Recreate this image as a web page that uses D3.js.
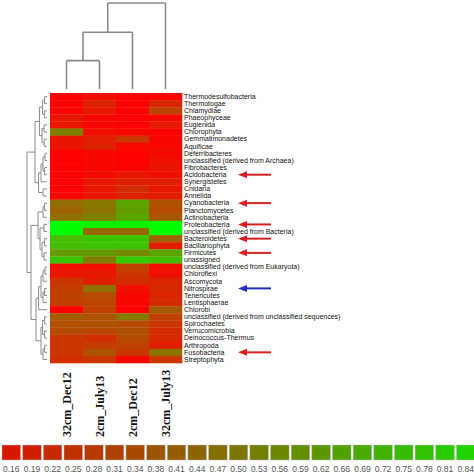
<!DOCTYPE html>
<html><head><meta charset="utf-8">
<script src="https://cdn.jsdelivr.net/npm/d3@7"></script>
<style>html,body{margin:0;padding:0;background:#fff;}svg{display:block;}</style>
</head><body>
<svg id="chart" width="474" height="474"></svg>
<script>
// ---------- DATA ----------
const samples = ["32cm_Dec12", "2cm_July13", "2cm_Dec12", "32cm_July13"];
const taxa = [
  "Thermodesulfobacteria","Thermotogae","Chlamydiae","Phaeophyceae","Euglenida","Chlorophyta",
  "Gemmatimonadetes","Aquificae","Deferribacteres","unclassified (derived from Archaea)",
  "Fibrobacteres","Acidobacteria","Synergistetes","Cnidaria","Annelida","Cyanobacteria",
  "Planctomycetes","Actinobacteria","Proteobacteria","unclassified (derived from Bacteria)",
  "Bacteroidetes","Bacillariophyta","Firmicutes","unassigned","unclassified (derived from Eukaryota)",
  "Chloroflexi","Ascomycota","Nitrospirae","Tenericutes","Lentisphaerae","Chlorobi",
  "unclassified (derived from unclassified sequences)","Spirochaetes","Verrucomicrobia",
  "Deinococcus-Thermus","Arthropoda","Fusobacteria","Streptophyta"
];
// one array per sample (column), values per taxon in row order
const col32Dec12 = [0.16,0.17,0.18,0.22,0.22,0.50,0.22,0.21,0.16,0.16,0.16,0.16,0.16,0.16,0.17,0.45,0.42,0.46,0.84,0.84,0.66,0.66,0.57,0.68,0.20,0.22,0.30,0.32,0.33,0.32,0.16,0.40,0.37,0.36,0.30,0.30,0.30,0.28];
const col2July13 = [0.20,0.25,0.22,0.18,0.18,0.20,0.24,0.25,0.18,0.18,0.18,0.19,0.22,0.22,0.22,0.48,0.47,0.50,0.80,0.44,0.68,0.68,0.57,0.50,0.20,0.22,0.24,0.46,0.36,0.34,0.33,0.38,0.38,0.35,0.28,0.32,0.38,0.30];
const col2Dec12  = [0.16,0.16,0.16,0.16,0.16,0.18,0.30,0.18,0.16,0.16,0.17,0.22,0.24,0.28,0.25,0.60,0.58,0.60,0.80,0.44,0.68,0.68,0.53,0.70,0.33,0.30,0.28,0.20,0.18,0.18,0.16,0.48,0.36,0.38,0.36,0.34,0.30,0.18];
const col32July13= [0.18,0.26,0.34,0.18,0.23,0.17,0.18,0.18,0.19,0.20,0.21,0.20,0.24,0.22,0.24,0.38,0.36,0.40,0.84,0.84,0.42,0.24,0.60,0.66,0.20,0.20,0.26,0.27,0.26,0.28,0.40,0.33,0.30,0.28,0.27,0.24,0.47,0.30];
const legendTicks = [0.16,0.19,0.22,0.25,0.28,0.31,0.34,0.38,0.41,0.44,0.47,0.50,0.53,0.56,0.59,0.62,0.66,0.69,0.72,0.75,0.78,0.81,0.84];
const legendLabels = ["0.16","0.19","0.22","0.25","0.28","0.31","0.34","0.38","0.41","0.44","0.47","0.50","0.53","0.56","0.59","0.62","0.66","0.69","0.72","0.75","0.78","0.81","0.84"];
// marked taxa
const redArrows = ["Acidobacteria","Cyanobacteria","Proteobacteria","Bacteroidetes","Firmicutes","Fusobacteria"];
const blueArrows = ["Nitrospirae"];
// column dendrogram (merge heights, 0..1)
const colTree = {h:1.0, c:[{h:0.66, c:[{h:0.33, c:[0,1]}, 2]}, 3]};
// row dendrogram (leaf = row index, merge heights 0..1)
const rowTree = {h:1.0, c:[
  {h:0.6, c:[
    {h:0.38, c:[
      {h:0.22, c:[{h:0.12,c:[0,1]},{h:0.12,c:[2,3]}]},
      {h:0.25, c:[{h:0.15,c:[4,5]},{h:0.14,c:[6,7]}]}
    ]},
    {h:0.42, c:[
      {h:0.3, c:[{h:0.2, c:[{h:0.1,c:[8,9]},{h:0.12,c:[10,11]}]}, 12]},
      {h:0.2, c:[13,14]}
    ]}
  ]},
  {h:0.8, c:[
    {h:0.45, c:[
      {h:0.2, c:[{h:0.12,c:[15,16]}, 17]},
      {h:0.35, c:[{h:0.15,c:[18,19]},{h:0.25,c:[{h:0.12,c:[20,21]},{h:0.15,c:[22,23]}]}]}
    ]},
    {h:0.55, c:[
      {h:0.42, c:[{h:0.3, c:[{h:0.2,c:[{h:0.1,c:[24,25]},26]},{h:0.2,c:[{h:0.12,c:[27,28]},29]}]}, 30]},
      {h:0.3, c:[{h:0.22,c:[{h:0.12,c:[31,32]},{h:0.12,c:[33,34]}]},{h:0.2,c:[{h:0.12,c:[35,36]},37]}]}
    ]}
  ]}
]};

// ---------- LAYOUT ----------
const svg = d3.select("#chart");
const columns = [col32Dec12, col2July13, col2Dec12, col32July13];
const x = d3.scaleBand().domain(samples).range([50, 182]);
const y = d3.scaleBand().domain(taxa).range([93, 363]);
const color = d3.scaleLinear().domain([0.16, 0.84]).range(["#ff0000", "#00ff00"]).interpolate(d3.interpolateRgb).clamp(true);
const legendColor = d3.scaleLinear().domain([0.16, 0.84]).range(["#d81800", "#20d400"]).interpolate(d3.interpolateRgb);

// cells
const cells = [];
columns.forEach((col, j) => col.forEach((v, i) => cells.push({s: samples[j], t: taxa[i], v})));
svg.append("g").selectAll("rect").data(cells).join("rect")
  .attr("x", d => x(d.s)).attr("y", d => y(d.t))
  .attr("width", x.bandwidth() + 0.3).attr("height", y.bandwidth() + 0.3)
  .attr("fill", d => color(d.v));

// row labels
svg.append("g").selectAll("text").data(taxa).join("text")
  .attr("x", 184).attr("y", d => y(d) + y.bandwidth()/2)
  .attr("dy", "0.33em")
  .attr("font-family", "Liberation Sans, Arial, sans-serif").attr("font-size", 7)
  .attr("fill", "#111").text(d => d);

// column labels
svg.append("g").selectAll("text").data(samples).join("text")
  .attr("transform", d => `translate(${x(d) + x.bandwidth()/2},437) rotate(-90)`)
  .attr("dy", "0.35em").attr("text-anchor", "start")
  .attr("font-family", "Liberation Serif, Times New Roman, serif").attr("font-weight", "bold")
  .attr("font-size", 12).attr("fill", "#111").text(d => d);

// column dendrogram
const hy = d3.scaleLinear().domain([0, 1]).range([89, 3]);
function drawTop(node, g) {
  if (typeof node === "number") return {pos: x(samples[node]) + x.bandwidth()/2, h: 0};
  const ch = node.c.map(n => drawTop(n, g));
  const pos = (ch[0].pos + ch[ch.length-1].pos) / 2;
  ch.forEach(c => {
    g.append("path").attr("d", `M${c.pos},${hy(c.h)}V${hy(node.h)}`);
  });
  g.append("path").attr("d", `M${ch[0].pos},${hy(node.h)}H${ch[ch.length-1].pos}`);
  return {pos, h: node.h};
}
const gTop = svg.append("g").attr("fill", "none").attr("stroke", "#8a8a8a").attr("stroke-width", 1.6);
drawTop(colTree, gTop);

// row dendrogram
const hx = d3.scaleLinear().domain([0, 1]).range([47, 27]);
function drawLeft(node, g) {
  if (typeof node === "number") return {pos: y(taxa[node]) + y.bandwidth()/2, h: 0};
  const ch = node.c.map(n => drawLeft(n, g));
  const pos = (ch[0].pos + ch[ch.length-1].pos) / 2;
  ch.forEach(c => {
    g.append("path").attr("d", `M${hx(c.h)},${c.pos}H${hx(node.h)}`);
  });
  g.append("path").attr("d", `M${hx(node.h)},${ch[0].pos}V${ch[ch.length-1].pos}`);
  return {pos, h: node.h};
}
const gLeft = svg.append("g").attr("fill", "none").attr("stroke", "#8a8a8a").attr("stroke-width", 1);
drawLeft(rowTree, gLeft);

// arrows
function arrow(name, col) {
  const yy = y(name) + y.bandwidth()/2;
  const g = svg.append("g");
  g.append("line").attr("x1", 246).attr("x2", 271).attr("y1", yy).attr("y2", yy)
    .attr("stroke", col).attr("stroke-width", 2);
  g.append("path").attr("d", `M238,${yy}L247,${yy-3.5}L247,${yy+3.5}Z`).attr("fill", col);
}
redArrows.forEach(n => arrow(n, "#d82020"));
blueArrows.forEach(n => arrow(n, "#2030c0"));

// legend
const lx = d3.scaleBand().domain(legendLabels).range([2, 475]).paddingInner(0.1);
const lg = svg.append("g");
lg.selectAll("rect").data(legendTicks).join("rect")
  .attr("x", (d, i) => lx(legendLabels[i])).attr("y", 445)
  .attr("width", lx.bandwidth()).attr("height", 15)
  .attr("fill", d => legendColor(d)).attr("stroke", "#bbb").attr("stroke-width", 0.5);
lg.selectAll("text").data(legendLabels).join("text")
  .attr("x", d => lx(d) + lx.bandwidth()/2).attr("y", 472)
  .attr("text-anchor", "middle")
  .attr("font-family", "Liberation Sans, Arial, sans-serif").attr("font-size", 8.5)
  .attr("fill", "#555").text(d => d);
</script>
</body></html>
